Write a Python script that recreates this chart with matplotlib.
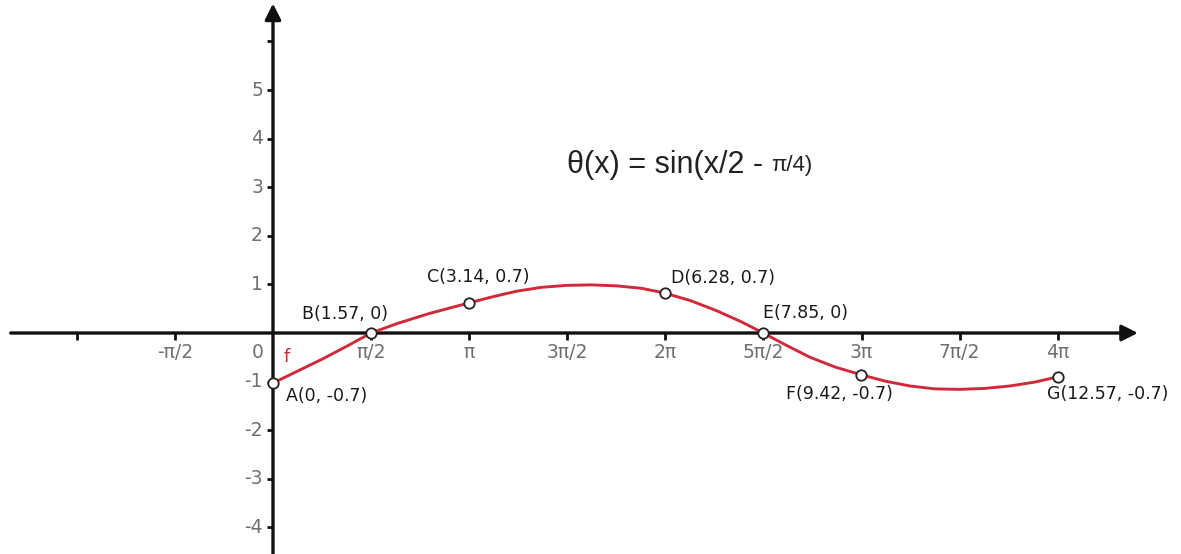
import numpy as np
import matplotlib
matplotlib.use("Agg")
import matplotlib.pyplot as plt

# ---------------- data ----------------
x_tick_vals = [-2, -1, 1, 2, 3, 4, 5, 6, 7, 8]          # multiples of pi/2
x_tick_labels = ['', '-π/2', 'π/2', 'π', '3π/2', '2π', '5π/2', '3π', '7π/2', '4π']
y_tick_vals = [-4, -3, -2, -1, 1, 2, 3, 4, 5, 6]
y_tick_labels = ['-4', '-3', '-2', '-1', '1', '2', '3', '4', '5', '']

curve_x = [0.00, 0.40, 0.80, 1.20, 1.57, 2.00, 2.50, 3.14, 3.50, 3.90, 4.30,
           4.70, 5.10, 5.50, 5.90, 6.28, 6.70, 7.10, 7.50, 7.85, 8.20, 8.60,
           9.00, 9.42, 9.80, 10.20, 10.60, 11.00, 11.40, 11.80, 12.20, 12.57]
curve_y = [-1.03, -0.78, -0.53, -0.26, 0.00, 0.20, 0.40, 0.62, 0.74, 0.86, 0.94,
           0.98, 0.99, 0.97, 0.92, 0.82, 0.66, 0.46, 0.23, 0.00, -0.24, -0.50,
           -0.70, -0.86, -0.99, -1.09, -1.15, -1.16, -1.14, -1.09, -1.01, -0.90]

point_x = [0.00, 1.57, 3.14, 6.28, 7.85, 9.42, 12.57]
point_y = [-1.03, 0.00, 0.62, 0.82, 0.00, -0.86, -0.90]
point_labels = ['A(0, -0.7)', 'B(1.57, 0)', 'C(3.14, 0.7)', 'D(6.28, 0.7)',
                'E(7.85, 0)', 'F(9.42, -0.7)', 'G(12.57, -0.7)']

formula_main = 'θ(x) = sin(x/2 - '
formula_tail = 'π/4)'
curve_name = 'f'

# ---------------- layout ----------------
W, H, DPI = 1181, 554, 100
PX_X = 62.45   # pixels per x unit
PX_Y = 48.6    # pixels per y unit
X0, Y0 = 273, 333  # pixel of origin (from top-left)

fig = plt.figure(figsize=(W / DPI, H / DPI), dpi=DPI)
ax = fig.add_axes([0, 0, 1, 1])
ax.set_xlim(-X0 / PX_X, (W - X0) / PX_X)
ax.set_ylim(-(H - Y0) / PX_Y, Y0 / PX_Y)
ax.axis('off')

AXC = '#111111'
TICKC = '#707070'
LABC = '#1a1a1a'
RED = '#d02a3a'

# axes with arrows
ax.annotate('', xy=(13.85, 0), xytext=(-4.2, 0),
            arrowprops=dict(arrowstyle='-|>', lw=2.4, color=AXC,
                            mutation_scale=24, shrinkA=0, shrinkB=0))
ax.annotate('', xy=(0, 6.78), xytext=(0, -4.6),
            arrowprops=dict(arrowstyle='-|>', lw=2.4, color=AXC,
                            mutation_scale=24, shrinkA=0, shrinkB=0))

tick_font = dict(family='DejaVu Sans', size=13.5, color=TICKC)

# x ticks
for k, lab in zip(x_tick_vals, x_tick_labels):
    xv = k * np.pi / 2
    ax.plot([xv, xv], [0, -7 / PX_Y], color=AXC, lw=2.0, solid_capstyle='butt')
    if lab:
        ax.text(xv, -20 / PX_Y, lab, ha='center', va='center', **tick_font)
ax.text(-15 / PX_X, -20 / PX_Y, '0', ha='center', va='center', **tick_font)

# y ticks
for yv, lab in zip(y_tick_vals, y_tick_labels):
    ax.plot([-6 / PX_X, 0], [yv, yv], color=AXC, lw=2.0, solid_capstyle='butt')
    if lab:
        ax.text(-10 / PX_X, yv, lab, ha='right', va='center', **tick_font)

# curve
ax.plot(curve_x, curve_y, color=RED, lw=2.1, solid_joinstyle='round',
        solid_capstyle='round', zorder=3)
ax.plot(point_x, point_y, 'o', ms=7.5, mfc='white', mec='#222222', mew=1.3, zorder=4)

# point labels: (dx, dy) pixel offsets, ha
label_layout = [(13, -13, 'left'), (-26, 19, 'center'), (9, 26, 'center'),
                (6, 15, 'left'), (0, 20, 'left'), (-22, -19, 'center'),
                (50, -17, 'center')]
for px, py, lab, (dx, dy, ha) in zip(point_x, point_y, point_labels, label_layout):
    ax.annotate(lab, (px, py), xytext=(dx, dy), textcoords='offset pixels',
                ha=ha, va='center', fontsize=12.5, color=LABC, family='DejaVu Sans')

ax.text(14 / PX_X, -24 / PX_Y, curve_name, color=RED, fontsize=13,
        ha='center', va='center', family='DejaVu Sans')

# formula
t1 = ax.text((567 - X0) / PX_X, (Y0 - 165) / PX_Y, formula_main, ha='left',
             va='center', fontsize=22, color='#222222', family='Liberation Sans')
fig.canvas.draw()
bb = t1.get_window_extent(renderer=fig.canvas.get_renderer())
ax.annotate(formula_tail, xy=(bb.x1, (bb.y0 + bb.y1) / 2 - 1), xycoords='figure pixels',
            ha='left', va='center', fontsize=16, color='#222222', family='Liberation Sans')

fig.savefig('out.png', dpi=DPI, facecolor='white')
